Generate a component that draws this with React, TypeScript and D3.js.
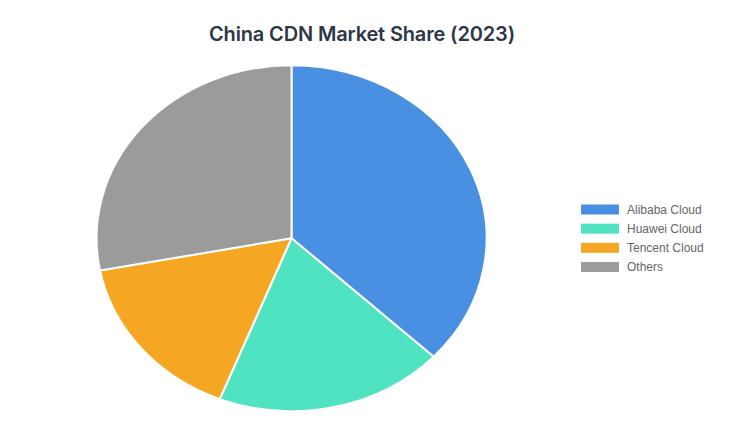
import React from "react";
import * as d3 from "d3";

const categories = ["Alibaba Cloud", "Huawei Cloud", "Tencent Cloud", "Others"];
const shares = [37, 19, 16, 28];
const colors = ["#4a90e2", "#50e3c2", "#f5a623", "#9b9b9b"];
const title = "China CDN Market Share (2023)";

export default function App() {
  const W = 732, H = 436;
  const cx = 291.5, cy = 238.2, rx = 195, ry = 173;
  const pie = d3.pie<number>().sort(null).value((d) => d);
  const arcs = pie(shares);
  const arcGen = d3.arc<d3.PieArcDatum<number>>().innerRadius(0).outerRadius(1);
  const legendY = d3.scalePoint<string>().domain(categories).range([209.5, 267]);
  return (
    <div style={{ position: "absolute", left: 0, top: 0 }}>
      <svg width={W} height={H} style={{ display: "block" }}>
        <rect width={W} height={H} fill="#fff" />
        <text x={362} y={40.7} textAnchor="middle" fontFamily="Inter, sans-serif" fontWeight={600} fontSize={20} letterSpacing={-0.15} fill="#2d3748">{title}</text>
        <g transform={`translate(${cx},${cy}) scale(${rx},${ry})`}>
          {arcs.map((a, i) => (
            <path key={i} d={arcGen(a) || ""} fill={colors[i]} stroke="#fff" strokeWidth={2} vectorEffect="non-scaling-stroke" strokeLinejoin="round" />
          ))}
        </g>
        {categories.map((c, i) => (
          <g key={c} transform={`translate(581,${legendY(c)})`}>
            <rect x={0} y={-5} width={38} height={10} fill={colors[i]} />
            <text x={46} y={0} dy="0.35em" fontFamily="Liberation Sans, Arial, sans-serif" fontSize={12} fill="#666">{c}</text>
          </g>
        ))}
      </svg>
    </div>
  );
}
